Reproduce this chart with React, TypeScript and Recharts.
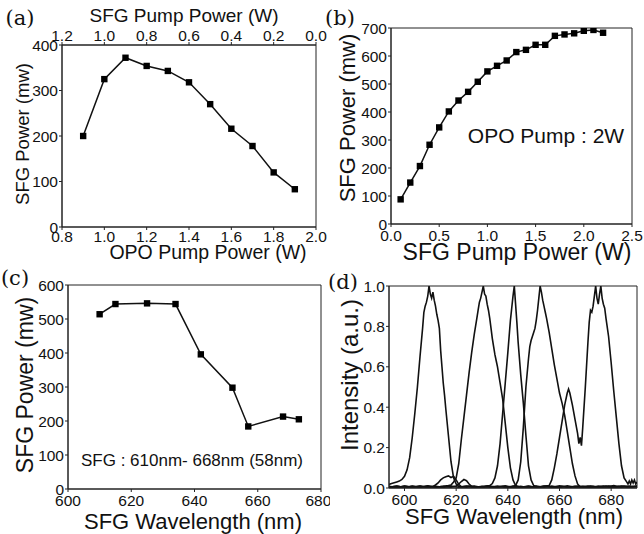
import { LineChart, Line, XAxis, YAxis, ReferenceArea } from 'recharts';

const FONT = '"Liberation Sans", Arial, sans-serif';
const SERIF = '"DejaVu Serif", "Liberation Serif", serif';
const INK = '#111';

// (a) SFG power vs OPO pump power
const opoPump = [0.9, 1.0, 1.1, 1.2, 1.3, 1.4, 1.5, 1.6, 1.7, 1.8, 1.9];
const sfgPowerA = [200, 325, 372, 354, 343, 318, 270, 216, 178, 120, 83];
const opoTicks = [0.8, 1.0, 1.2, 1.4, 1.6, 1.8, 2.0];
// top axis labels (SFG pump power) sitting over the OPO ticks
const sfgTopLabels = ['1.2', '1.0', '0.8', '0.6', '0.4', '0.2', '0.0'];
const powerTicksA = [0, 100, 200, 300, 400];

// (b) SFG power vs SFG pump power
const sfgPumpB = [0.1, 0.2, 0.3, 0.4, 0.5, 0.6, 0.7, 0.8, 0.9, 1.0, 1.1, 1.2, 1.3, 1.4, 1.5, 1.6, 1.7, 1.8, 1.9, 2.0, 2.1, 2.2];
const sfgPowerB = [88, 148, 207, 283, 345, 402, 441, 472, 508, 545, 565, 584, 614, 622, 640, 640, 672, 677, 681, 690, 693, 683];
const pumpTicksB = [0, 0.5, 1.0, 1.5, 2.0, 2.5];
const powerTicksB = [0, 100, 200, 300, 400, 500, 600, 700];

// (c) SFG power vs wavelength
const wavelengthC = [610, 615, 625, 634, 642, 652, 657, 668, 673];
const powerC = [514, 544, 546, 544, 396, 298, 184, 213, 205];
const wlTicksC = [600, 620, 640, 660, 680];
const powerTicksC = [0, 100, 200, 300, 400, 500, 600];

// (d) normalised spectra, [wavelength nm, intensity]
const specA = [[594,0.018],[595,0.022],[596,0.026],[597,0.03],[598,0.034],[599,0.042],[600,0.058],[601,0.09],[602,0.15],[603,0.25],[604,0.37],[605,0.5],[606,0.65],[607,0.79],[607.5,0.87],[608,0.9],[608.5,0.92],[609,0.95],[609.5,1.0],[610,0.96],[610.5,0.94],[611,0.97],[611.5,0.93],[612,0.9],[612.5,0.86],[613,0.83],[613.5,0.79],[614,0.68],[614.5,0.6],[615,0.52],[615.5,0.46],[616,0.39],[617,0.26],[618,0.13],[619,0.05],[620,0.02],[621,0.008],[624,0.004],[627,0.01],[630,0.002],[633,0.009],[636,0.003],[639,0.011],[642,0.002],[645,0.008],[648,0.001],[651,0.01],[654,0.004],[657,0.009],[660,0.002],[663,0.011],[666,0.004],[669,0.008],[672,0.001],[675,0.01],[678,0.005],[681,0.012],[684,0.003],[687,0.01],[690,0.006]];
const specB = [[594,0.004],[597,0.01],[600,0.002],[603,0.009],[606,0.003],[609,0.011],[612,0.004],[615,0.008],[617,0.012],[618,0.015],[619,0.03],[620,0.05],[621,0.12],[622,0.24],[623,0.35],[624,0.46],[625,0.57],[626,0.67],[627,0.76],[628,0.84],[628.5,0.88],[629,0.92],[629.5,0.94],[630,0.97],[630.5,1.0],[631,0.96],[631.5,0.95],[632,0.91],[632.5,0.88],[633,0.84],[633.5,0.79],[634,0.74],[634.5,0.7],[635,0.66],[635.5,0.63],[636,0.6],[636.5,0.56],[637,0.52],[638,0.44],[639,0.32],[640,0.2],[641,0.1],[642,0.04],[643,0.012],[645,0.004],[648,0.01],[651,0.002],[654,0.009],[657,0.004],[660,0.011],[663,0.003],[666,0.008],[669,0.002],[672,0.01],[675,0.004],[678,0.009],[681,0.003],[684,0.01],[687,0.005],[690,0.009]];
const specC = [[594,0.006],[597,0.001],[600,0.009],[603,0.003],[606,0.01],[609,0.004],[611,0.008],[612,0.015],[613,0.025],[614,0.04],[615,0.05],[616,0.056],[617,0.06],[618,0.052],[619,0.058],[620,0.04],[621,0.018],[622,0.006],[625,0.01],[628,0.003],[631,0.008],[633,0.012],[634,0.022],[635,0.05],[636,0.11],[637,0.22],[638,0.37],[639,0.52],[640,0.67],[640.5,0.75],[641,0.83],[641.5,0.89],[642,0.95],[642.5,1.0],[643,0.91],[643.5,0.82],[644,0.72],[645,0.56],[646,0.42],[647,0.26],[648,0.11],[649,0.04],[650,0.012],[652,0.004],[655,0.009],[658,0.002],[661,0.008],[664,0.003],[667,0.01],[670,0.004],[673,0.008],[676,0.002],[679,0.009],[682,0.004],[685,0.01],[688,0.005],[690,0.008]];
const specD = [[594,0.003],[597,0.009],[600,0.002],[603,0.008],[606,0.004],[609,0.01],[612,0.003],[615,0.008],[618,0.004],[620,0.01],[621,0.02],[622,0.032],[623,0.042],[624,0.036],[625,0.02],[626,0.008],[629,0.004],[632,0.009],[635,0.003],[638,0.008],[641,0.004],[643,0.012],[644,0.04],[645,0.13],[646,0.3],[647,0.5],[648,0.64],[648.5,0.7],[649,0.73],[649.5,0.75],[650,0.77],[650.5,0.79],[651,0.83],[651.5,0.88],[652,0.94],[652.5,1.0],[653,0.97],[653.5,0.93],[654,0.9],[654.5,0.87],[655,0.84],[656,0.77],[657,0.69],[658,0.61],[659,0.54],[660,0.47],[661,0.42],[662,0.36],[663,0.28],[664,0.2],[665,0.12],[666,0.06],[667,0.02],[668,0.006],[671,0.01],[674,0.003],[677,0.009],[680,0.002],[683,0.008],[686,0.004],[690,0.009]];
const specE = [[594,0.008],[597,0.002],[600,0.01],[603,0.004],[606,0.009],[609,0.002],[612,0.008],[615,0.003],[618,0.01],[621,0.004],[624,0.009],[627,0.002],[630,0.008],[633,0.004],[636,0.01],[639,0.003],[642,0.009],[645,0.002],[648,0.008],[651,0.004],[654,0.009],[656,0.012],[657,0.04],[658,0.1],[659,0.17],[660,0.25],[661,0.33],[662,0.41],[663,0.47],[663.5,0.49],[664,0.47],[665,0.41],[666,0.34],[667,0.27],[667.5,0.22],[668,0.25],[668.5,0.21],[669,0.3],[670,0.5],[671,0.72],[671.5,0.82],[672,0.88],[672.5,0.87],[673,0.9],[673.5,0.95],[674,1.0],[674.5,0.94],[675,0.91],[675.5,0.96],[676,1.0],[676.5,0.94],[677,0.91],[677.5,0.89],[678,0.84],[679,0.75],[680,0.62],[681,0.48],[682,0.35],[683,0.22],[684,0.11],[685,0.05],[686,0.03],[686.5,0.02],[687,0.035],[687.5,0.02],[688,0.04],[688.5,0.025],[689,0.04],[689.5,0.02],[690,0.03]];
const spectra = [specA, specB, specC, specD, specE];
const wlTicksD = [600, 620, 640, 660, 680];
const intensityTicks = [0, 0.2, 0.4, 0.6, 0.8, 1.0];

const dataA = opoPump.map((x, i) => ({ x, y: sfgPowerA[i] }));
const dataB = sfgPumpB.map((x, i) => ({ x, y: sfgPowerB[i] }));
const dataC = wavelengthC.map((x, i) => ({ x, y: powerC[i] }));

const tickStyle = { fontSize: 15.5, fill: INK, fontFamily: FONT };
const axisLine = { stroke: '#222', strokeWidth: 1 };

const Square = (props: any) => {
  const { cx, cy, index } = props;
  if (cx == null || cy == null) return <g key={index} />;
  return <rect key={index} x={cx - 3.2} y={cy - 3.2} width={6.4} height={6.4} fill="#000" />;
};

const Text = ({ x, y, children, size = 22, rotate = false, serif = false }: any) => (
  <div
    style={{
      position: 'absolute',
      left: x,
      top: y,
      transform: `translate(-50%, -50%)${rotate ? ' rotate(-90deg)' : ''}`,
      fontSize: size,
      fontFamily: serif ? SERIF : FONT,
      color: INK,
      whiteSpace: 'nowrap',
      lineHeight: 1,
    }}
  >
    {children}
  </div>
);

const fmt1 = (v: number) => v.toFixed(1);
const fmtTop = (v: number) => sfgTopLabels[opoTicks.findIndex((t) => Math.abs(t - v) < 1e-6)] ?? '';

export default function App() {
  return (
    <div style={{ position: 'relative', width: 644, height: 534, background: '#fff', overflow: 'hidden' }}>
      <style>{'body{margin:0}'}</style>

      {/* (a) */}
      <div style={{ position: 'absolute', left: 0, top: 0 }}>
        <LineChart width={330} height={260} data={dataA} margin={{ top: 15, right: 14, left: 0, bottom: 0 }}>
          <XAxis xAxisId="b" dataKey="x" type="number" domain={[0.8, 2.0]} ticks={opoTicks} tickFormatter={fmt1}
            height={33} tick={tickStyle} tickSize={3} tickMargin={1} axisLine={axisLine} tickLine={axisLine} allowDataOverflow />
          <XAxis xAxisId="t" orientation="top" dataKey="x" type="number" domain={[0.8, 2.0]} ticks={opoTicks} tickFormatter={fmtTop}
            height={30} tick={tickStyle} tickSize={3} tickMargin={1} axisLine={axisLine} tickLine={axisLine} allowDataOverflow />
          <YAxis dataKey="y" type="number" domain={[0, 400]} ticks={powerTicksA} width={62}
            tick={tickStyle} tickSize={3} tickMargin={1} axisLine={axisLine} tickLine={axisLine} allowDataOverflow />
          <ReferenceArea xAxisId="b" x1={0.8} x2={2.0} y1={0} y2={400} fill="none" stroke="#222" strokeWidth={1} ifOverflow="visible" />
          <Line xAxisId="t" dataKey="y" stroke="none" dot={false} activeDot={false} isAnimationActive={false} />
          <Line xAxisId="b" dataKey="y" stroke={INK} strokeWidth={1.5} dot={Square} isAnimationActive={false} />
        </LineChart>
      </div>

      {/* (b) */}
      <div style={{ position: 'absolute', left: 322, top: 0 }}>
        <LineChart width={322} height={260} data={dataB} margin={{ top: 28, right: 12, left: 0, bottom: 0 }}>
          <XAxis dataKey="x" type="number" domain={[0, 2.5]} ticks={pumpTicksB} tickFormatter={fmt1}
            height={36} tick={tickStyle} tickSize={3} tickMargin={3} axisLine={axisLine} tickLine={axisLine} allowDataOverflow />
          <YAxis dataKey="y" type="number" domain={[0, 700]} ticks={powerTicksB} width={69}
            tick={tickStyle} tickSize={3} tickMargin={1} axisLine={axisLine} tickLine={axisLine} allowDataOverflow />
          <ReferenceArea x1={0} x2={2.5} y1={0} y2={700} fill="none" stroke="#222" strokeWidth={1} ifOverflow="visible" />
          <Line dataKey="y" stroke={INK} strokeWidth={1.5} dot={Square} isAnimationActive={false} />
        </LineChart>
      </div>

      {/* (c) */}
      <div style={{ position: 'absolute', left: 0, top: 260 }}>
        <LineChart width={330} height={274} data={dataC} margin={{ top: 25, right: 9, left: 0, bottom: 0 }}>
          <XAxis dataKey="x" type="number" domain={[600, 680]} ticks={wlTicksC}
            height={45} tick={tickStyle} tickSize={3} tickMargin={3} axisLine={axisLine} tickLine={axisLine} allowDataOverflow />
          <YAxis dataKey="y" type="number" domain={[0, 600]} ticks={powerTicksC} width={68}
            tick={tickStyle} tickSize={3} tickMargin={1} axisLine={axisLine} tickLine={axisLine} allowDataOverflow />
          <ReferenceArea x1={600} x2={680} y1={0} y2={600} fill="none" stroke="#222" strokeWidth={1} ifOverflow="visible" />
          <Line dataKey="y" stroke={INK} strokeWidth={1.5} dot={Square} isAnimationActive={false} />
        </LineChart>
      </div>

      {/* (d) */}
      <div style={{ position: 'absolute', left: 322, top: 260 }}>
        <LineChart width={322} height={274} margin={{ top: 26, right: 7, left: 0, bottom: 0 }}>
          <XAxis dataKey="x" type="number" domain={[594, 690]} ticks={wlTicksD}
            height={46} tick={tickStyle} tickSize={3} tickMargin={3} axisLine={axisLine} tickLine={axisLine} allowDataOverflow />
          <YAxis type="number" domain={[0, 1]} ticks={intensityTicks} tickFormatter={fmt1} width={67}
            tick={tickStyle} tickSize={3} tickMargin={1} axisLine={axisLine} tickLine={axisLine} allowDataOverflow />
          <ReferenceArea x1={594} x2={690} y1={0} y2={1} fill="none" stroke="#222" strokeWidth={1} ifOverflow="visible" />
          {spectra.map((s, k) => (
            <Line key={k} data={s.map(([x, y]) => ({ x, y }))} dataKey="y" stroke={INK} strokeWidth={1.6}
              dot={false} isAnimationActive={false} />
          ))}
        </LineChart>
      </div>

      {/* panel letters */}
      <Text x={20} y={18} size={21} serif>(a)</Text>
      <Text x={340} y={18} size={21} serif>(b)</Text>
      <Text x={15} y={278} size={21} serif>(c)</Text>
      <Text x={343} y={282} size={21} serif>(d)</Text>

      {/* axis titles */}
      <Text x={184} y={15} size={19}>SFG Pump Power (W)</Text>
      <Text x={23} y={134} size={18.5} rotate>SFG Power (mw)</Text>
      <Text x={208} y={253} size={19.5}>OPO Pump Power (W)</Text>

      <Text x={348} y={118} size={22} rotate>SFG Power (mw)</Text>
      <Text x={517} y={252} size={23}>SFG Pump Power (W)</Text>
      <Text x={546} y={135} size={21}>OPO Pump : 2W</Text>

      <Text x={25} y={385} size={23} rotate>SFG Power (mw)</Text>
      <Text x={193} y={522} size={22}>SFG Wavelength (nm)</Text>
      <Text x={192} y={460} size={17}>SFG : 610nm- 668nm (58nm)</Text>

      <Text x={350} y={375} size={24} rotate>Intensity (a.u.)</Text>
      <Text x={514} y={517} size={22}>SFG Wavelength (nm)</Text>
    </div>
  );
}
